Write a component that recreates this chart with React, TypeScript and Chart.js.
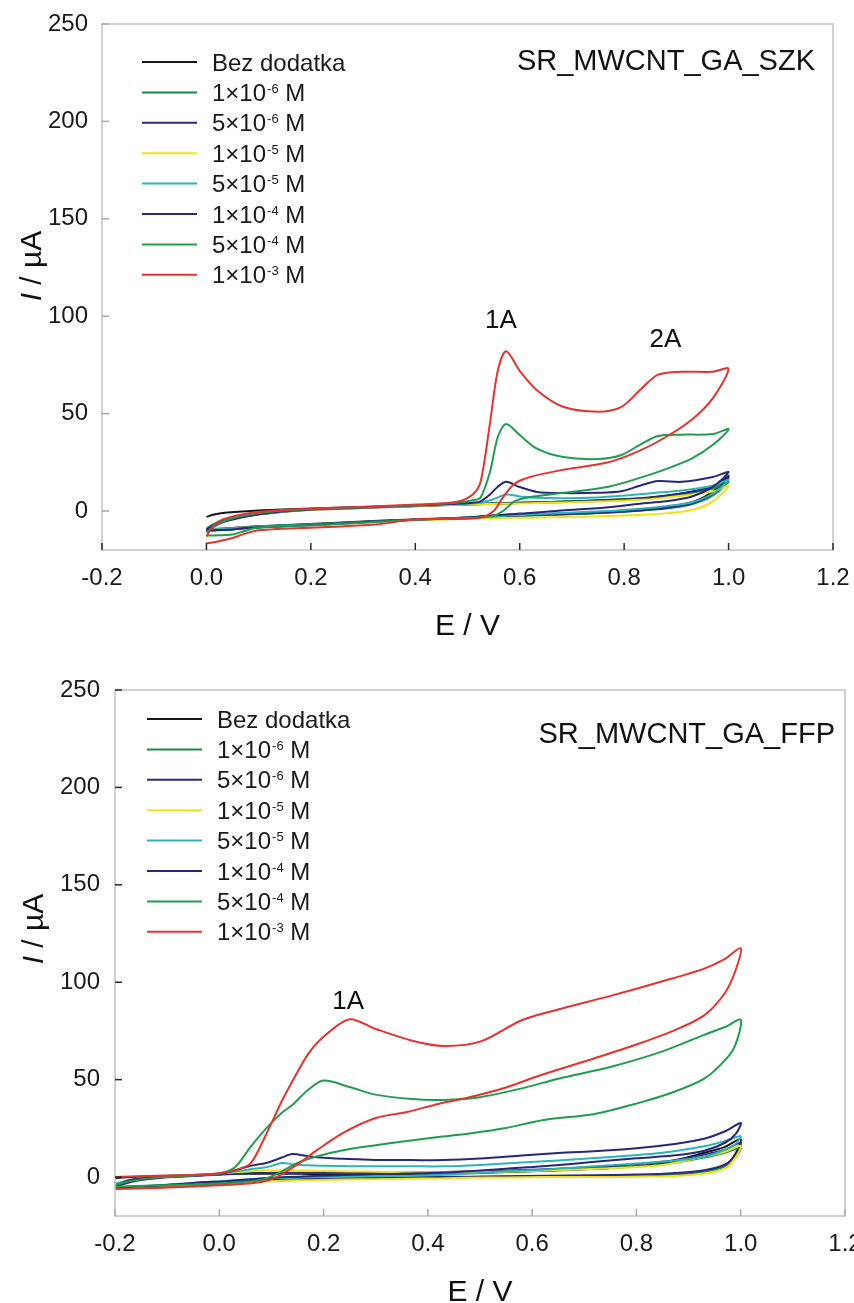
import React, { useEffect, useRef } from 'react';
import { Chart, registerables } from 'chart.js';

Chart.register(...registerables);

const FONT = "'Liberation Sans', Arial, Helvetica, sans-serif";

// ---------- shared series info ----------
const seriesLabels = ['Bez dodatka', '1×10⁻⁶ M', '5×10⁻⁶ M', '1×10⁻⁵ M', '5×10⁻⁵ M', '1×10⁻⁴ M', '5×10⁻⁴ M', '1×10⁻³ M'];
const seriesColors = ['#161616', '#178a4c', '#2b2a82', '#f0e214', '#2db4b6', '#27287c', '#1f9e50', '#e5332f'];

const xTickValues = [-0.2, 0, 0.2, 0.4, 0.6, 0.8, 1.0, 1.2];
const yTickValues = [0, 50, 100, 150, 200, 250];

// ---------- panel 1: SR_MWCNT_GA_SZK ----------
const szkFwdE = [0, 0.015, 0.04, 0.1, 0.2, 0.3, 0.4, 0.48, 0.51, 0.525, 0.543, 0.558, 0.574, 0.6, 0.633, 0.683, 0.75, 0.795, 0.83, 0.865, 0.91, 0.97, 1.0];
const szkRevE = [0.97, 0.93, 0.88, 0.83, 0.77, 0.68, 0.62, 0.59, 0.568, 0.55, 0.53, 0.5, 0.4, 0.33, 0.23, 0.1, 0.07, 0.05, 0.015, 0];

const szkBlackFwd = [-3, -1.8, -0.8, 0.3, 1.3, 2.1, 2.9, 3.5, 3.7, 3.8, 3.9, 4, 4.1, 4.3, 4.5, 4.9, 5.5, 6, 6.6, 7.5, 9, 12.5, 18];
const szkBlackRev = [10, 4.5, 2, 0.8, -0.2, -1.2, -1.8, -2.1, -2.4, -2.6, -2.9, -3.3, -4.3, -5, -6.3, -7.8, -8.3, -8.7, -9.2, -9.4];
const szk1e6Fwd = [-10, -7.5, -4.8, -1.5, 0.7, 1.7, 2.6, 3.3, 3.5, 3.6, 3.8, 3.9, 4, 4.2, 4.4, 4.8, 5.3, 5.8, 6.3, 7, 8.5, 11.5, 15];
const szk1e6Rev = [8, 3.5, 1.3, 0.2, -0.8, -1.8, -2.3, -2.6, -2.8, -3, -3.2, -3.6, -4.6, -5.4, -6.8, -8.5, -9, -9.5, -10, -10];
const szk5e6Fwd = [-10.5, -7.8, -5, -1.8, 0.6, 1.6, 2.5, 3.2, 3.4, 3.5, 3.6, 3.7, 3.9, 4.1, 4.3, 4.6, 5.1, 5.6, 6.2, 7.2, 9, 12.5, 17];
const szk5e6Rev = [9, 4, 1.5, 0.3, -0.7, -1.7, -2.2, -2.5, -2.7, -2.9, -3.1, -3.5, -4.5, -5.3, -6.6, -8.3, -8.8, -9.3, -9.8, -10];
const szk1e5Fwd = [-8.5, -6.5, -4.2, -1.4, 0.7, 1.7, 2.6, 3.2, 3.4, 3.5, 3.6, 3.7, 3.8, 3.9, 4.1, 4.4, 4.9, 5.3, 5.8, 6.5, 7.8, 10, 13];
const szk1e5Rev = [5, 0.5, -1.2, -2, -2.6, -3.1, -3.4, -3.5, -3.6, -3.7, -3.8, -4, -4.8, -5.5, -6.8, -8.2, -8.6, -9, -9.3, -9.5];
const szk5e5Fwd = [-9, -6.5, -4, -1.2, 0.8, 1.8, 2.8, 3.6, 4, 4.4, 5.5, 7, 8.5, 7.5, 6.8, 6.6, 7, 7.8, 8.6, 9.5, 10.5, 13, 16];
const szk5e5Rev = [9, 4.5, 2.5, 1.2, 0, -1, -1.8, -2.2, -2.5, -2.7, -3, -3.5, -4.5, -5.3, -6.5, -8, -8.6, -9, -9.3, -9.5];
const szk1e4Fwd = [-9.5, -7, -4.6, -1.5, 0.8, 1.8, 2.8, 3.8, 4.3, 5, 8.5, 12.5, 15, 12.3, 9.8, 9.2, 9.4, 10.2, 13, 15.4, 15, 17.5, 20];
const szk1e4Rev = [12.5, 7.5, 5, 3.8, 2, 0.3, -1, -1.5, -1.9, -2.2, -2.6, -3.3, -4.5, -5.3, -6.8, -8.3, -8.8, -9.5, -9.8, -9.8];
const szk5e4Fwd = [-11, -8, -4.5, -1, 1, 2, 3, 4.2, 5.5, 7, 20, 38, 44.7, 39, 32, 27.7, 26.7, 28.8, 34, 38.5, 39.2, 39.5, 42];
const szk5e4Rev = [34, 27, 21.5, 17, 12.5, 9.2, 7.2, 5, 0, -2.5, -3.2, -3.5, -4.5, -5.5, -7, -8.5, -10.5, -12, -12.5, -12.5];
const szk1e3Fwd = [-13, -7, -3.5, -0.5, 1.2, 2.2, 3.3, 4.8, 8.5, 15, 45, 72, 82, 72, 62, 53.5, 51, 53.5, 62, 70, 71.5, 71.5, 73];
const szk1e3Rev = [58, 47, 38, 31, 25, 21, 17.5, 14, 7, 0, -3, -4, -4.2, -6.8, -8.2, -9.8, -12, -13.8, -16, -16.5];

const szkPeakText = ['1A', '2A'];
const szkPeakE = [0.564, 0.879];
const szkPeakI = [94, 84];

// ---------- panel 2: SR_MWCNT_GA_FFP ----------
const ffpFwdE = [-0.2, -0.17, -0.12, -0.05, 0, 0.03, 0.06, 0.09, 0.12, 0.14, 0.17, 0.2, 0.25, 0.3, 0.37, 0.43, 0.5, 0.58, 0.65, 0.75, 0.85, 0.93, 0.97, 1.0];
const ffpRevE = [0.99, 0.97, 0.93, 0.87, 0.8, 0.72, 0.62, 0.55, 0.48, 0.42, 0.36, 0.3, 0.24, 0.19, 0.15, 0.11, 0.08, 0.02, -0.05, -0.12, -0.2];

const ffpBlackFwd = [-0.5, 0, 0.5, 1, 1.5, 1.6, 1.7, 1.7, 1.7, 1.7, 1.6, 1.6, 1.5, 1.5, 1.6, 1.8, 2.2, 2.8, 3.5, 4.7, 7, 12.5, 15.5, 19.5];
const ffpBlackRev = [12, 6, 3, 1.4, 0.7, 0.4, 0.2, 0.1, 0, -0.3, -0.5, -0.7, -0.9, -1.1, -1.3, -1.5, -1.8, -2.5, -3.3, -4.3, -5.5];
const ffp1e6Fwd = [-4.5, -2, -0.3, 0.7, 1.4, 1.8, 2, 2.1, 2.1, 2.1, 2.1, 2.1, 2, 2, 2, 2.1, 2.4, 2.9, 3.5, 4.6, 6.5, 10, 12.5, 15];
const ffp1e6Rev = [10, 5.5, 2.8, 1.5, 0.9, 0.6, 0.4, 0.2, 0, -0.2, -0.4, -0.6, -0.9, -1.2, -1.5, -1.9, -2.3, -3.2, -4, -4.8, -5.8];
const ffp5e6Fwd = [-5, -2.5, -0.6, 0.5, 1.2, 1.6, 1.9, 2.1, 2.2, 2.2, 2.2, 2.2, 2.2, 2.3, 2.4, 2.6, 3, 3.6, 4.3, 5.6, 7.8, 11.5, 14, 17.5];
const ffp5e6Rev = [11, 6.5, 3.5, 2, 1.3, 0.9, 0.6, 0.4, 0.2, 0, -0.2, -0.4, -0.7, -1, -1.3, -1.7, -2.1, -3, -3.9, -4.8, -6];
const ffp1e5Fwd = [-4, -1.5, 0, 1, 1.8, 2.5, 3, 3.3, 3.4, 3.4, 3.3, 3.1, 2.9, 2.7, 2.5, 2.4, 2.6, 3, 3.6, 4.5, 6.2, 10.5, 13, 16];
const ffp1e5Rev = [10, 4.5, 1.8, 0.5, 0.2, 0, 0, -0.2, -0.4, -0.7, -0.9, -1.1, -1.3, -1.5, -1.7, -2, -2.3, -3, -3.8, -4.6, -5.5];
const ffp5e5Fwd = [-3.5, -1.2, 0, 0.8, 1.5, 2.8, 4, 5, 7.2, 6.6, 6, 5.8, 5.6, 5.5, 5.5, 5.5, 6.2, 7.4, 8.5, 10.3, 12.5, 15.8, 18.5, 21];
const ffp5e5Rev = [17, 14, 10.5, 8.3, 7, 5.5, 3.8, 3, 1.8, 1, 0.7, 0.4, 0.2, 0, -0.2, -0.5, -0.8, -1.8, -3, -4.3, -5.2];
const ffp1e4Fwd = [-4.6, -1.5, -0.1, 0.8, 1.5, 3.5, 5.8, 7.2, 10, 11.8, 10.7, 9.9, 9.2, 8.8, 8.7, 8.7, 9.5, 11, 12.3, 13.7, 16.2, 19.7, 23.5, 27.7];
const ffp1e4Rev = [22, 17.6, 13.5, 11, 9.6, 7.8, 5.5, 4.3, 3, 2.2, 1.8, 1.4, 1, 0.6, 0.2, -0.3, -0.8, -2, -3, -4.5, -5.3];
const ffp5e4Fwd = [-4, -2, -0.3, 0.8, 1.8, 5, 15.5, 25, 33, 37, 44.7, 49.5, 46.2, 42.3, 40, 39.6, 41, 45.5, 50.5, 56.5, 64.5, 73, 77, 80.7];
const ffp5e4Rev = [68, 60, 50.5, 43.5, 37.7, 32.4, 29.2, 25.2, 22.4, 20.5, 18.5, 16.3, 13.9, 10.8, 7.2, 1.5, -1.5, -3, -3.8, -4.3, -5];
const ffp1e3Fwd = [0, 0.3, 0.6, 1.1, 2, 3.4, 7, 22, 39, 49, 63, 72, 81, 76, 70, 67.3, 69.5, 80.5, 86, 93, 100.5, 107, 112, 117.5];
const ffp1e3Rev = [106, 94.6, 83, 75, 68, 61, 52.6, 46, 41, 37.5, 33.4, 30.3, 23, 14.3, 6.5, 0, -2.5, -4, -4.8, -5.6, -6.2];

const ffpPeakText = ['1A'];
const ffpPeakE = [0.247];
const ffpPeakI = [86.3];

// ---------- layout / style ----------
const W = 854;

type Panel = {
  height: number;
  plotTop: number; plotBottom: number; plotLeft: number; plotRight: number;
  fwdE: number[]; revE: number[]; fwd: number[][]; rev: number[][];
  title: string; titleRightInset: number; titleBaseline: number;
  legendLineX: number; legendTextX: number; legendTop: number;
  peakText: string[]; peakE: number[]; peakI: number[];
  yTickColor: string; xTickColor: string; yLabelPad: number;
  yTitleX: number; yTitleY: number;
};

const panels: Panel[] = [
  {
    height: 660, plotTop: 24, plotBottom: 550, plotLeft: 102, plotRight: 833,
    fwdE: szkFwdE, revE: szkRevE,
    fwd: [szkBlackFwd, szk1e6Fwd, szk5e6Fwd, szk1e5Fwd, szk5e5Fwd, szk1e4Fwd, szk5e4Fwd, szk1e3Fwd],
    rev: [szkBlackRev, szk1e6Rev, szk5e6Rev, szk1e5Rev, szk5e5Rev, szk1e4Rev, szk5e4Rev, szk1e3Rev],
    title: 'SR_MWCNT_GA_SZK', titleRightInset: 18, titleBaseline: 46,
    legendLineX: 40, legendTextX: 110, legendTop: 38,
    peakText: szkPeakText, peakE: szkPeakE, peakI: szkPeakI,
    yTickColor: '#a8a8a8', xTickColor: '#2a2a2a', yLabelPad: 14,
    yTitleX: 41, yTitleY: 266,
  },
  {
    height: 643, plotTop: 30, plotBottom: 556, plotLeft: 115, plotRight: 845,
    fwdE: ffpFwdE, revE: ffpRevE,
    fwd: [ffpBlackFwd, ffp1e6Fwd, ffp5e6Fwd, ffp1e5Fwd, ffp5e5Fwd, ffp1e4Fwd, ffp5e4Fwd, ffp1e3Fwd],
    rev: [ffpBlackRev, ffp1e6Rev, ffp5e6Rev, ffp1e5Rev, ffp5e5Rev, ffp1e4Rev, ffp5e4Rev, ffp1e3Rev],
    title: 'SR_MWCNT_GA_FFP', titleRightInset: 10, titleBaseline: 53,
    legendLineX: 32, legendTextX: 102, legendTop: 29,
    peakText: ffpPeakText, peakE: ffpPeakE, peakI: ffpPeakI,
    yTickColor: '#2a2a2a', xTickColor: '#a8a8a8', yLabelPad: 15,
    yTitleX: 43, yTitleY: 269,
  },
];

const SUP: Record<string, string> = {
  '⁻': '-', '⁰': '0', '¹': '1', '²': '2', '³': '3', '⁴': '4', '⁵': '5', '⁶': '6', '⁷': '7', '⁸': '8', '⁹': '9',
};

function drawRich(ctx: CanvasRenderingContext2D, text: string, x: number, y: number, size: number) {
  const runs: { sup: boolean; t: string }[] = [];
  for (const ch of text) {
    const sup = ch in SUP;
    const c = sup ? SUP[ch] : ch;
    if (runs.length && runs[runs.length - 1].sup === sup) runs[runs.length - 1].t += c;
    else runs.push({ sup, t: c });
  }
  ctx.textAlign = 'left';
  ctx.textBaseline = 'alphabetic';
  let cx = x;
  for (const r of runs) {
    if (r.sup) {
      ctx.font = `${Math.round(size * 0.55)}px ${FONT}`;
      ctx.fillText(r.t, cx + 1, y - size * 0.33);
      cx += ctx.measureText(r.t).width + 1;
    } else {
      ctx.font = `${size}px ${FONT}`;
      ctx.fillText(r.t, cx, y);
      cx += ctx.measureText(r.t).width;
    }
  }
}

function makeChart(canvas: HTMLCanvasElement, p: Panel) {
  const n = seriesLabels.length;
  const datasets = seriesLabels.map((label, i) => ({
    label,
    data: [
      ...p.fwdE.map((e, k) => ({ x: e, y: p.fwd[i][k] })),
      ...p.revE.map((e, k) => ({ x: e, y: p.rev[i][k] })),
    ],
    borderColor: seriesColors[i],
    backgroundColor: seriesColors[i],
    borderWidth: 2,
    pointRadius: 0,
    showLine: true,
    fill: false,
    tension: 0.3,
    order: n - i,
  }));

  const decor = {
    id: 'decor',
    afterDraw(chart: any) {
      const ctx: CanvasRenderingContext2D = chart.ctx;
      const { left, right, top, bottom } = chart.chartArea;
      const xs = chart.scales.x;
      const ys = chart.scales.y;
      ctx.save();
      // frame
      ctx.strokeStyle = '#c2c2c2';
      ctx.lineWidth = 1.5;
      ctx.strokeRect(left, top, right - left, bottom - top);
      // ticks (inside)
      ctx.lineWidth = 1.5;
      ctx.strokeStyle = p.yTickColor;
      for (const v of yTickValues) {
        const yy = ys.getPixelForValue(v);
        ctx.beginPath();
        ctx.moveTo(left, yy);
        ctx.lineTo(left + 7, yy);
        ctx.stroke();
      }
      ctx.strokeStyle = p.xTickColor;
      for (const v of xTickValues) {
        const xx = xs.getPixelForValue(v);
        ctx.beginPath();
        ctx.moveTo(xx, bottom);
        ctx.lineTo(xx, bottom - 7);
        ctx.stroke();
      }
      // legend
      const rowH = 30.4;
      seriesLabels.forEach((lab, i) => {
        const yy = top + p.legendTop + i * rowH;
        ctx.strokeStyle = seriesColors[i];
        ctx.lineWidth = 2;
        ctx.beginPath();
        ctx.moveTo(left + p.legendLineX, yy);
        ctx.lineTo(left + p.legendLineX + 55, yy);
        ctx.stroke();
        ctx.fillStyle = '#1a1a1a';
        drawRich(ctx, lab, left + p.legendTextX, yy + 8.6, 24);
      });
      // panel title
      ctx.fillStyle = '#111';
      ctx.font = `29px ${FONT}`;
      ctx.textAlign = 'right';
      ctx.textBaseline = 'alphabetic';
      ctx.fillText(p.title, right - p.titleRightInset, top + p.titleBaseline);
      // peak labels
      ctx.font = `26px ${FONT}`;
      ctx.textAlign = 'center';
      p.peakText.forEach((t, i) => {
        ctx.fillText(t, xs.getPixelForValue(p.peakE[i]), ys.getPixelForValue(p.peakI[i]));
      });
      // x axis title
      ctx.font = `30px ${FONT}`;
      ctx.textAlign = 'center';
      ctx.fillText('E / V', (left + right) / 2, bottom + 85);
      // y axis title (rotated), italic I
      ctx.translate(p.yTitleX, p.yTitleY);
      ctx.rotate(-Math.PI / 2);
      ctx.textAlign = 'left';
      ctx.font = `italic 30px ${FONT}`;
      const w1 = ctx.measureText('I').width;
      ctx.font = `30px ${FONT}`;
      const rest = ' / µA';
      const w2 = ctx.measureText(rest).width;
      const sx = -(w1 + w2) / 2;
      ctx.font = `italic 30px ${FONT}`;
      ctx.fillText('I', sx, 0);
      ctx.font = `30px ${FONT}`;
      ctx.fillText(rest, sx + w1, 0);
      ctx.restore();
    },
  };

  const tickFont = { size: 24, family: FONT };

  return new Chart(canvas, {
    type: 'scatter',
    data: { datasets } as any,
    options: {
      animation: false,
      responsive: false,
      maintainAspectRatio: false,
      devicePixelRatio: 1,
      layout: { padding: { left: 0, top: p.plotTop, right: W - p.plotRight, bottom: 0 } },
      plugins: { legend: { display: false }, tooltip: { enabled: false } },
      scales: {
        x: {
          type: 'linear',
          min: -0.2,
          max: 1.2,
          afterBuildTicks: (s: any) => { s.ticks = xTickValues.map((v) => ({ value: v })); },
          afterFit: (s: any) => { s.height = p.height - p.plotBottom; s.paddingLeft = 0; s.paddingRight = 0; },
          grid: { display: false, drawTicks: false },
          border: { display: false },
          ticks: {
            padding: 14,
            font: tickFont,
            color: '#1a1a1a',
            maxRotation: 0,
            autoSkip: false,
            callback: (v: any) => Number(v).toFixed(1),
          },
        },
        y: {
          type: 'linear',
          min: -20,
          max: 250,
          afterBuildTicks: (s: any) => { s.ticks = yTickValues.map((v) => ({ value: v })); },
          afterFit: (s: any) => { s.width = p.plotLeft; s.paddingTop = 0; s.paddingBottom = 0; },
          grid: { display: false, drawTicks: false },
          border: { display: false },
          ticks: {
            padding: p.yLabelPad,
            font: tickFont,
            color: '#1a1a1a',
            autoSkip: false,
            callback: (v: any) => String(v),
          },
        },
      },
    } as any,
    plugins: [decor],
  });
}

function Panel({ p, top }: { p: Panel; top: number }) {
  const ref = useRef<HTMLCanvasElement | null>(null);
  useEffect(() => {
    if (!ref.current) return;
    const chart = makeChart(ref.current, p);
    return () => chart.destroy();
  }, [p]);
  return (
    <canvas
      ref={ref}
      width={W}
      height={p.height}
      style={{ position: 'absolute', left: 0, top, width: W, height: p.height, display: 'block' }}
    />
  );
}

export default function App() {
  return (
    <div style={{ position: 'absolute', left: 0, top: 0, width: W, height: 1303, background: '#fff' }}>
      <Panel p={panels[0]} top={0} />
      <Panel p={panels[1]} top={660} />
    </div>
  );
}
